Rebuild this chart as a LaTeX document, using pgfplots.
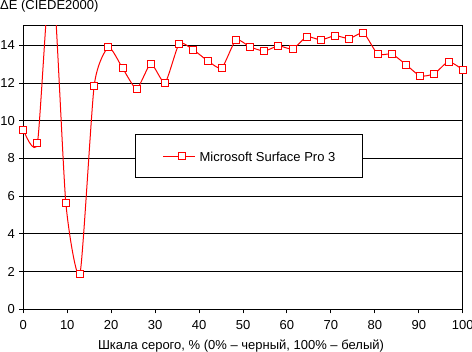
\documentclass[border=0pt]{standalone}
\usepackage{fontspec}
\setmainfont{Liberation Sans}
\usepackage{pgfplots}
\pgfplotsset{compat=1.18}
\begin{document}
\fontsize{13bp}{15bp}\selectfont
\begin{tikzpicture}
\useasboundingbox (0,0) rectangle (472bp,352bp);
\begin{axis}[
  at={(23.3bp,42.7bp)}, anchor=south west,
  scale only axis, width=439.4bp, height=283.3bp,
  xmin=0, xmax=100, ymin=0, ymax=15.03,
  xtick={0,10,...,100}, ytick={0,2,...,14},
  /pgf/number format/assume math mode=true,
  tick align=outside, major tick length=4bp,
  xtick pos=bottom, ytick pos=left,
  ymajorgrids, grid style={black, line width=1bp},
  axis line style={black, line width=1bp},
  tick style={black, line width=1bp},
  font=\fontsize{13bp}{15bp}\selectfont,
  xticklabel style={yshift=-3bp},
  xlabel={Шкала серого, \% (0\% – черный, 100\% – белый)},
  xlabel style={at={(rel axis cs:0.5,0)}, anchor=base, yshift=-40.2bp, xshift=-2bp, inner sep=0pt},
  legend style={at={(axis cs:25.5,9.28)}, anchor=north west, draw=black, line width=1bp,
    inner xsep=27bp, inner ysep=16.75bp, column sep=4bp,
    nodes={inner sep=0pt, text height=9.5bp, text depth=0bp},
    font=\fontsize{13bp}{15bp}\selectfont},
  legend image code/.code={
    \path (0bp,0bp) -- (31.7bp,0bp);
    \draw[#1] (4.7bp,0bp) -- (31.7bp,0bp);
    \draw[#1, only marks] plot coordinates {(18.2bp,0bp)};
  },
]
\addplot[red, line width=1bp, smooth, tension=0.35, mark=square*, mark size=3.5bp,
  mark options={fill=white, draw=red, line width=1bp}] coordinates {
(0,9.53) (3.226,8.84) (6.452,18.5) (9.677,5.65) (12.903,1.89) (16.129,11.86)
(19.355,13.90) (22.581,12.80) (25.806,11.70) (29.032,13.03) (32.258,12.02)
(35.484,14.09) (38.710,13.76) (41.935,13.19) (45.161,12.80) (48.387,14.29)
(51.613,13.92) (54.839,13.70) (58.065,13.98) (61.290,13.81) (64.516,14.46)
(67.742,14.29) (70.968,14.52) (74.194,14.36) (77.419,14.66) (80.645,13.54)
(83.871,13.54) (87.097,12.98) (90.323,12.38) (93.548,12.50) (96.774,13.14)
(100,12.71)};
\addlegendentry{Microsoft Surface Pro 3}
\end{axis}
\node[anchor=base west, inner sep=0pt] at (0bp,342bp) {ΔE (CIEDE2000)};
\end{tikzpicture}
\end{document}
